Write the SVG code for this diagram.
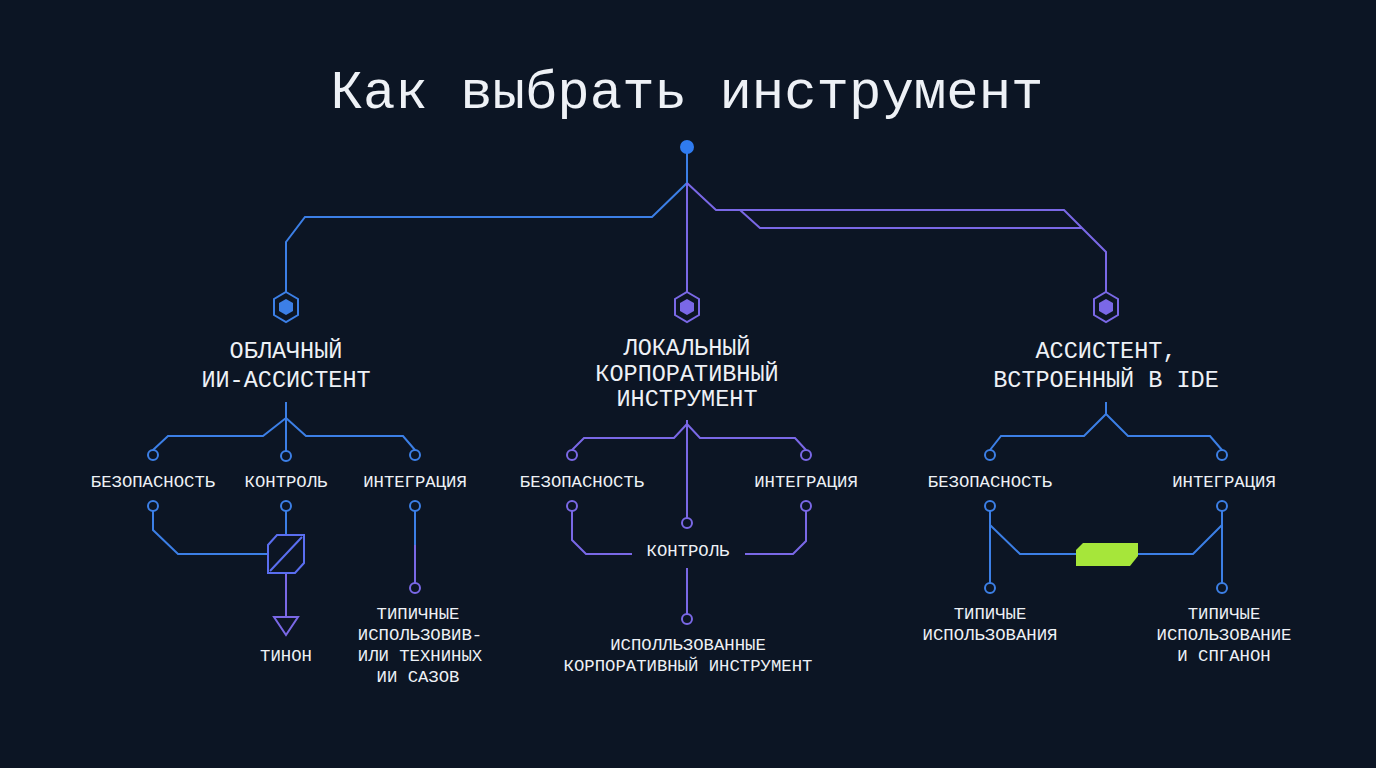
<svg xmlns="http://www.w3.org/2000/svg" width="1376" height="768" viewBox="0 0 1376 768">
<defs>
<style>
.b{fill:none;stroke:#3c7fe6;stroke-width:2}
.p{fill:none;stroke:#7a68e6;stroke-width:2}
.cb{fill:#0c1524;stroke:#3c7fe6;stroke-width:2}
.cp{fill:#0c1524;stroke:#7a68e6;stroke-width:2}
.t{font-family:"Liberation Mono","DejaVu Sans Mono",monospace;fill:#eef1f6;text-anchor:middle}
.h{font-size:23.5px}
.s{font-size:17.3px}
</style>
<g id="hexb"><path class="cb" d="M0,-15 L12,-8 L12,8 L0,15 L-12,8 L-12,-8Z"/><path d="M0,-8 L7,-4 L7,4 L0,8 L-7,4 L-7,-4Z" fill="#3c7fe6"/></g>
</defs>
<rect width="1376" height="768" fill="#0c1524"/>
<text class="t" x="687" y="108" font-size="54">Как выбрать инструмент</text>
<g id="connectors">
<path class="b" d="M687,147 V183 L652,217 H305 L286,242 V292"/>
<path class="p" d="M687,183 V292"/>
<path class="p" d="M687,183 L716,210 H1064 L1106,252 V292"/>
<path class="p" d="M740,210 L760,228 H1082"/>
<path class="b" d="M286,402 V418 M286,418 L263,436 H168 L153,450 M286,418 V451 M286,418 L306,436 H403 L415,450"/>
<path class="b" d="M153,511 V530 L178,554 H268 M286,511 V535"/>
<path class="p" d="M286,573 V617"/>
<path class="b" d="M415,511 V545"/>
<path class="p" d="M415,545 V583"/>
<path class="p" d="M687,420 V518 M687,424 L674,438 H584 L572,450 M687,424 L700,438 H795 L806,450"/>
<path class="p" d="M572,511 V540 L586,554 H632 M745,554 H793 L806,541 V511 M687,568 V614"/>
<path class="b" d="M1106,402 V414 L1084,436 H1001 L990,450 M1106,414 L1128,436 H1210 L1222,450"/>
<path class="b" d="M990,511 V583 M990,525 L1020,554 H1076 M1138,554 H1193 L1222,525 M1222,511 V583"/>
</g>
<g id="root"><circle cx="687" cy="147" r="7" fill="#2f7bf0"/></g>
<g id="n-cloud">
<use href="#hexb" x="286" y="307"/>
<text class="t h" x="286" y="358">ОБЛАЧНЫЙ</text>
<text class="t h" x="286" y="387">ИИ-АССИСТЕНТ</text>
</g>
<g id="n-local">
<path class="cp" d="M687,292 L699,299 L699,315 L687,322 L675,315 L675,299Z"/><path d="M687,299 L694,303 L694,311 L687,315 L680,311 L680,303Z" fill="#7a68e6"/>
<text class="t h" x="687" y="355">ЛОКАЛЬНЫЙ</text>
<text class="t h" x="687" y="381">КОРПОРАТИВНЫЙ</text>
<text class="t h" x="687" y="406">ИНСТРУМЕНТ</text>
</g>
<g id="n-ide">
<path class="cp" d="M1106,292 L1118,299 L1118,315 L1106,322 L1094,315 L1094,299Z"/><path d="M1106,299 L1113,303 L1113,311 L1106,315 L1099,311 L1099,303Z" fill="#7a68e6"/>
<text class="t h" x="1106" y="358">АССИСТЕНТ,</text>
<text class="t h" x="1106" y="387">ВСТРОЕННЫЙ В IDE</text>
</g>
<g id="cloud-sub">
<circle class="cb" cx="153" cy="455" r="5"/><circle class="cb" cx="286" cy="456" r="5"/><circle class="cb" cx="415" cy="455" r="5"/>
<text class="t s" x="153" y="487">БЕЗОПАСНОСТЬ</text>
<text class="t s" x="286" y="487">КОНТРОЛЬ</text>
<text class="t s" x="415" y="487">ИНТЕГРАЦИЯ</text>
<circle class="cb" cx="153" cy="506" r="5"/><circle class="cb" cx="286" cy="506" r="5"/><circle class="cb" cx="415" cy="506" r="5"/>
<path d="M277,535 H304 V563 L295,573 H268 V545Z M270,571 L302,537" fill="none" stroke="#5a6ef0" stroke-width="2"/>
<path class="p" d="M274,617 H298 L286,635Z"/>
<text class="t s" x="286" y="661">ТИНОН</text>
<circle class="cp" cx="415" cy="588" r="5"/>
<text class="t s" x="418" y="619">ТИПИЧНЫЕ</text>
<text class="t s" x="420" y="640">ИСПОЛЬЗОВИВ-</text>
<text class="t s" x="420" y="661">ИЛИ ТЕХНИНЫХ</text>
<text class="t s" x="418" y="682">ИИ САЗОВ</text>
</g>
<g id="local-sub">
<circle class="cp" cx="572" cy="455" r="5"/><circle class="cp" cx="806" cy="455" r="5"/>
<text class="t s" x="582" y="487">БЕЗОПАСНОСТЬ</text>
<text class="t s" x="806" y="487">ИНТЕГРАЦИЯ</text>
<circle class="cp" cx="572" cy="506" r="5"/><circle class="cp" cx="806" cy="506" r="5"/><circle class="cp" cx="687" cy="523" r="5"/>
<text class="t s" x="688" y="556">КОНТРОЛЬ</text>
<circle class="cp" cx="687" cy="619" r="5"/>
<text class="t s" x="688" y="650">ИСПОЛЛЬЗОВАННЫЕ</text>
<text class="t s" x="688" y="671">КОРПОРАТИВНЫЙ ИНСТРУМЕНТ</text>
</g>
<g id="ide-sub">
<circle class="cb" cx="990" cy="455" r="5"/><circle class="cb" cx="1222" cy="455" r="5"/>
<text class="t s" x="990" y="487">БЕЗОПАСНОСТЬ</text>
<text class="t s" x="1224" y="487">ИНТЕГРАЦИЯ</text>
<circle class="cb" cx="990" cy="506" r="5"/><circle class="cb" cx="1222" cy="506" r="5"/>
<path d="M1083,543 H1138 V556 L1130,566 H1076 V550Z" fill="#a6e63a"/>
<circle class="cb" cx="990" cy="588" r="5"/><circle class="cb" cx="1222" cy="588" r="5"/>
<text class="t s" x="990" y="619">ТИПИЧЫЕ</text>
<text class="t s" x="990" y="640">ИСПОЛЬЗОВАНИЯ</text>
<text class="t s" x="1224" y="619">ТИПИЧЫЕ</text>
<text class="t s" x="1224" y="640">ИСПОЛЬЗОВАНИЕ</text>
<text class="t s" x="1224" y="661">И СПГАНОН</text>
</g>
</svg>
